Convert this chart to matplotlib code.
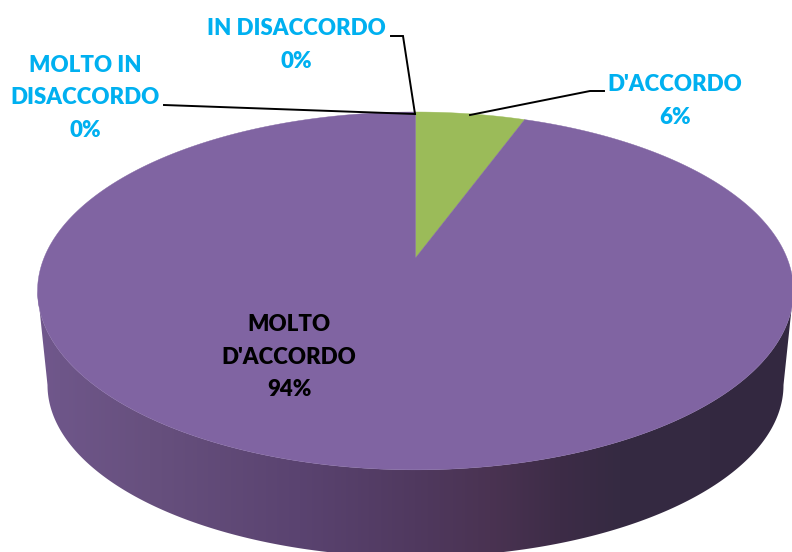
import numpy as np
import matplotlib
matplotlib.use("Agg")
import matplotlib.pyplot as plt
from matplotlib.patches import Polygon

categories = ["D'ACCORDO", "MOLTO\nD'ACCORDO", "MOLTO IN\nDISACCORDO", "IN DISACCORDO"]
values = [5.6, 94.4, 0.0, 0.0]
slice_colors = ["#9BBB59", "#8064A2", "#4BACC6", "#F79646"]

W, H = 792, 552
plt.rcParams['font.family'] = ['Lato', 'DejaVu Sans']
fig = plt.figure(figsize=(W / 100, H / 100), dpi=100)
ax = fig.add_axes([0, 0, 1, 1])
ax.set_xlim(0, W)
ax.set_ylim(H, 0)
ax.axis('off')

# projective view of the unit circle
CX, CY, K, A, C = 415.5, 258.0, 371.5, -125.4, 0.184
def project(theta):
    u, v = np.sin(theta), np.cos(theta)
    d = 1 + C * v
    return CX + K * u / d, (A * v + CY) / d

# side wall
tx, ty = project(np.linspace(0, 2 * np.pi, 721))
i_r, i_l = np.argmax(tx), np.argmin(tx)
front_top = np.column_stack([tx[i_r:i_l + 1], ty[i_r:i_l + 1]])
BX, BY, BRX, BRY = 415.5, 385.0, 368.0, 172.0
bx = BX + BRX * np.sin(np.linspace(-np.pi / 2, -3 * np.pi / 2, 300))
by = BY - BRY * np.cos(np.linspace(-np.pi / 2, -3 * np.pi / 2, 300))
wall = np.vstack([front_top, np.column_stack([bx, by])])
wall_patch = Polygon(wall, closed=True, facecolor='none', edgecolor='none')
ax.add_patch(wall_patch)
stops_x = [30, 60, 150, 300, 415, 490, 560, 620, 800]
stops_c = ["#72598F", "#6E5689", "#67507E", "#5A4370", "#50395F", "#4A3352", "#3D2C47", "#352A42", "#332840"]
rgb = np.array([matplotlib.colors.to_rgb(c) for c in stops_c])
xs = np.arange(30, 800)
grad = np.stack([np.interp(xs, stops_x, rgb[:, i]) for i in range(3)], axis=-1)[None, :, :]
im = ax.imshow(grad, extent=[30, 800, 560, 280], aspect='auto', zorder=1, interpolation='bilinear')
im.set_clip_path(wall_patch)
ax.set_xlim(0, W)
ax.set_ylim(H, 0)

# top face, one polygon per slice
start = 0.0
total = sum(values)
for val, col in zip(values, slice_colors):
    if val > 0:
        th = np.linspace(start, start + 2 * np.pi * val / total, 400)
        px, py = project(th)
        ax.fill(np.r_[CX, px], np.r_[CY, py], color=col, lw=0.3, zorder=2)
    start += 2 * np.pi * val / total

# labels
kw = dict(ha='center', va='center', fontsize=16, fontweight='heavy', linespacing=1.7, zorder=4)
blue = "#00B0F0"
for name, val, (x, y), c in zip(categories, values,
                                [(675, 101), (289, 357), (85, 98), (296, 45)],
                                [blue, "black", blue, blue]):
    ax.text(x, y, f"{name}\n{round(val):d}%", color=c, **kw)

# leader lines
for lx, ly in [([470, 590, 604], [115, 91, 91]),
               ([164, 415], [105, 114]),
               ([391, 403, 415], [36, 36, 114])]:
    ax.plot(lx, ly, color='black', lw=1.4, zorder=3, solid_joinstyle='miter')

fig.savefig("out.png", dpi=100)
